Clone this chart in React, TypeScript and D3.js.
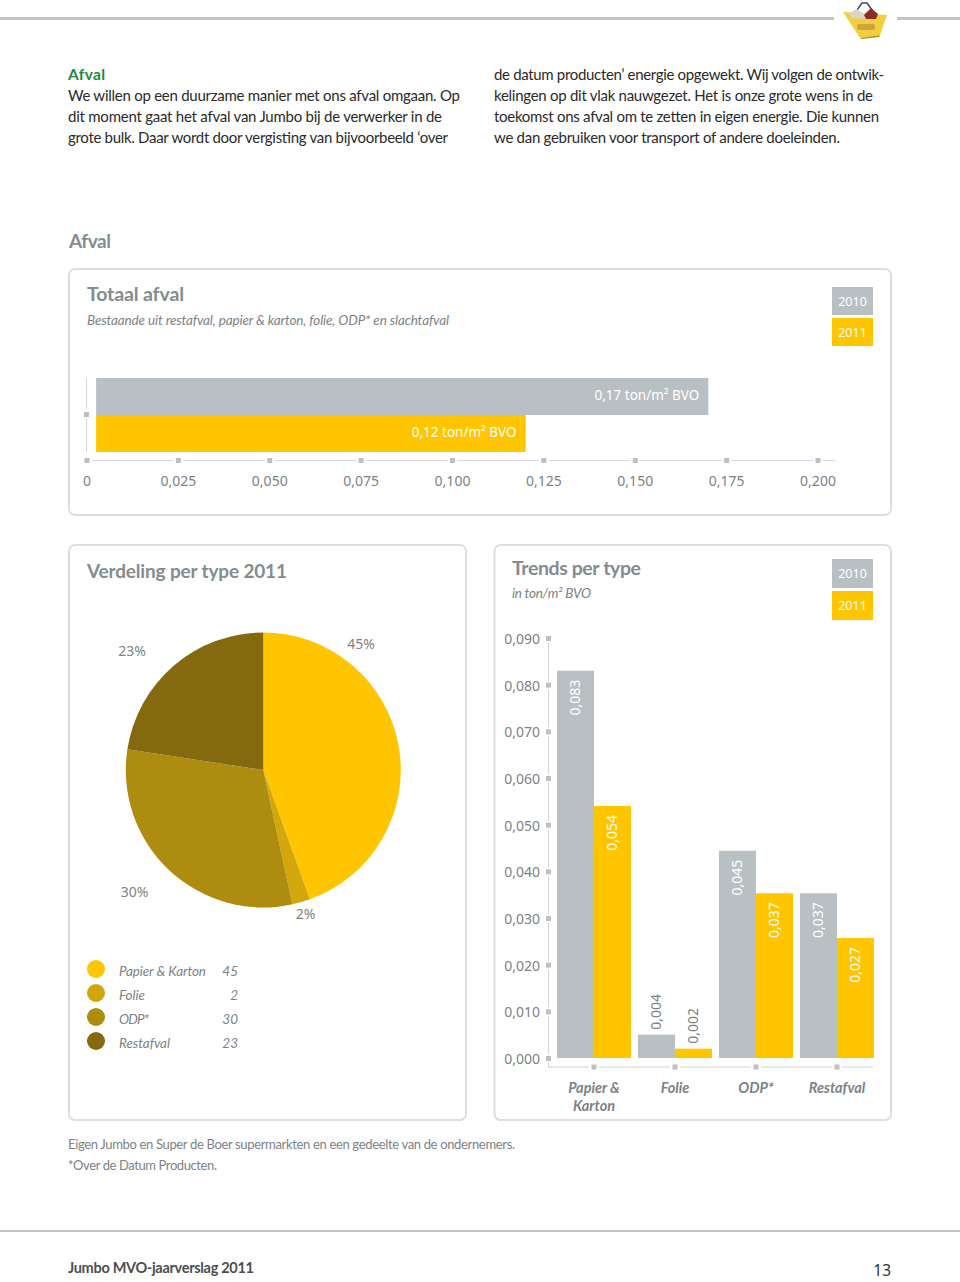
import React, { useRef, useEffect } from 'react';
import * as d3 from 'd3';

const years = ['2010', '2011'];
const totalValues = [0.17, 0.12];
const totalLabels = ['0,17 ton/m² BVO', '0,12 ton/m² BVO'];
const totalTicks = [0, 0.025, 0.05, 0.075, 0.1, 0.125, 0.15, 0.175, 0.2];

const pieNames = ['Papier & Karton', 'Folie', 'ODP*', 'Restafval'];
const pieValues = [45, 2, 30, 23];
// slice sizes as drawn in the picture, they differ a bit from the printed numbers
const pieShares = [44.5, 2.1, 30.8, 22.6];
const pieLabels = ['45%', '2%', '30%', '23%'];

const trendCategories = ['Papier & Karton', 'Folie', 'ODP*', 'Restafval'];
const trend2010 = [0.083, 0.005, 0.0444, 0.0353];
const trend2011 = [0.054, 0.002, 0.0353, 0.0257];
const trendLabels2010 = ['0,083', '0,004', '0,045', '0,037'];
const trendLabels2011 = ['0,054', '0,002', '0,037', '0,027'];
const trendTicks = [0, 0.01, 0.02, 0.03, 0.04, 0.05, 0.06, 0.07, 0.08, 0.09];

const introLeft = [
  'We willen op een duurzame manier met ons afval omgaan. Op',
  'dit moment gaat het afval van Jumbo bij de verwerker in de',
  'grote bulk. Daar wordt door vergisting van bijvoorbeeld ‘over',
];
const introRight = [
  'de datum producten’ energie opgewekt. Wij volgen de ontwik-',
  'kelingen op dit vlak nauwgezet. Het is onze grote wens in de',
  'toekomst ons afval om te zetten in eigen energie. Die kunnen',
  'we dan gebruiken voor transport of andere doeleinden.',
];

const GREY = '#b9c0c3';
const YELLOW = '#ffc600';
const TEXT = '#7d8285';
const TITLE = '#838c90';
const BORDER = '#dcdfe0';
const TICK = '#bdbfc0';
const pieColors = ['#ffc600', '#d3a60b', '#ae8c0f', '#84690f'];
const numFont = '"Noto Sans", sans-serif';
const textFont = 'Lato, sans-serif';
const comma = (d: number) => d3.format('.3f')(d).replace('.', ',');

const App = () => {
  const svgRef = useRef<SVGSVGElement>(null);

  useEffect(() => {
    const svg = d3.select(svgRef.current);
    svg.selectAll('*').remove();

    const text = (x: number, y: number, s: string, size: number, fill: string, opts: any = {}) =>
      svg
        .append('text')
        .attr('x', x)
        .attr('y', y)
        .attr('font-size', size)
        .attr('fill', fill)
        .attr('font-family', opts.font || textFont)
        .attr('font-weight', opts.weight || 400)
        .attr('font-style', opts.italic ? 'italic' : 'normal')
        .attr('text-anchor', opts.anchor || 'start')
        .text(s);

    // header
    svg.append('rect').attr('x', 0).attr('y', 17).attr('width', 834).attr('height', 3).attr('fill', '#bcc5c8');
    svg.append('rect').attr('x', 897).attr('y', 17).attr('width', 63).attr('height', 3).attr('fill', '#bcc5c8');
    const basket = svg.append('g');
    basket.append('path').attr('d', 'M855,13 L862,3 L867,3 L875,14').attr('fill', 'none').attr('stroke', '#4a4a55').attr('stroke-width', 1.5);
    basket.append('path').attr('d', 'M843,12 L887,15 L880,35 L860,38 Z').attr('fill', '#f2cf3c');
    basket.append('path').attr('d', 'M849,13 L857,9 L864,14 L866,19 L851,18 Z').attr('fill', '#d9d6c4');
    basket.append('path').attr('d', 'M864,15 L871,8 L878,14 L876,19 L866,19 Z').attr('fill', '#8c2f22');
    basket.append('rect').attr('x', 857).attr('y', 24).attr('width', 18).attr('height', 6).attr('rx', 2).attr('fill', '#c9a53a');
    basket.append('path').attr('d', 'M860,38 L880,35 L879,37 L862,39 Z').attr('fill', '#b8901f');

    // intro text
    text(68, 80, 'Afval', 15.5, '#1e8a3c', { weight: 700 }).attr('textLength', 37);
    introLeft.forEach((s, i) => text(68, 101 + i * 21, s, 15, '#2a2a2a').attr('textLength', [392, 374, 380][i]));
    introRight.forEach((s, i) => text(494, 80 + i * 21, s, 15, '#2a2a2a').attr('textLength', [390, 379, 385, 346][i]));

    text(69, 248, 'Afval', 19, TITLE, { weight: 700 }).attr('textLength', 42);

    // panels
    [
      [69, 269, 822, 246],
      [69, 545, 397, 575],
      [494.5, 545, 396.5, 575],
    ].forEach(([x, y, w, h]) =>
      svg.append('rect').attr('x', x).attr('y', y).attr('width', w).attr('height', h).attr('rx', 6).attr('fill', 'none').attr('stroke', BORDER).attr('stroke-width', 2),
    );

    const yearBoxes = (y0: number, y1: number, h: number) => {
      years.forEach((yr, i) => {
        const y = i === 0 ? y0 : y1;
        svg.append('rect').attr('x', 832).attr('y', y).attr('width', 41).attr('height', h).attr('fill', i === 0 ? GREY : YELLOW);
        text(852.5, y + h / 2 + 4.5, yr, 12.5, '#fff', { font: numFont, anchor: 'middle' });
      });
    };

    // totaal afval
    text(87, 301, 'Totaal afval', 19.5, TITLE, { weight: 700 }).attr('textLength', 97);
    text(87, 325, 'Bestaande uit restafval, papier & karton, folie, ODP* en slachtafval', 13.5, TEXT, { italic: true }).attr('textLength', 362);
    yearBoxes(287, 318, 28);

    const xTotal = d3.scaleLinear().domain([0, 0.2]).range([87, 818]);
    const yTotal = d3.scaleBand().domain(years).range([378, 452]);
    const barStart = xTotal(0.0025);

    svg.selectAll('.total').data(totalValues).join('rect').attr('class', 'total')
      .attr('x', barStart)
      .attr('y', (_, i) => yTotal(years[i]) as number)
      .attr('width', (d) => xTotal(d) - barStart)
      .attr('height', yTotal.bandwidth())
      .attr('fill', (_, i) => (i === 0 ? GREY : YELLOW));
    totalValues.forEach((d, i) =>
      text(xTotal(d) - 9, (yTotal(years[i]) as number) + 22, totalLabels[i], 13.5, '#fff', { font: numFont, anchor: 'end' }),
    );

    const square = (x: number, y: number) =>
      svg.append('rect').attr('x', x - 2.5).attr('y', y - 2.5).attr('width', 5).attr('height', 5).attr('fill', TICK);

    const xAxis = svg.append('g').attr('transform', 'translate(-0.5,460)')
      .call(d3.axisBottom(xTotal).tickValues(totalTicks).tickSize(0).tickPadding(16).tickFormat((d) => (+d === 0 ? '0' : comma(+d))));
    xAxis.select('.domain').remove();
    xAxis.selectAll('text').attr('font-size', 14).attr('font-family', numFont).attr('fill', TEXT);
    svg.append('line').attr('x1', 87).attr('x2', 836).attr('y1', 460.5).attr('y2', 460.5).attr('stroke', '#d5d5e6');
    totalTicks.forEach((t) => {
      svg.append('rect').attr('x', xTotal(t) - 5).attr('y', 458).attr('width', 10).attr('height', 5).attr('fill', '#fff');
      square(xTotal(t), 460.5);
    });
    svg.append('line').attr('x1', 86.5).attr('x2', 86.5).attr('y1', 378).attr('y2', 452).attr('stroke', '#d5d5d5');
    svg.append('rect').attr('x', 84).attr('y', 409).attr('width', 5).attr('height', 10).attr('fill', '#fff');
    square(86.5, 414.5);

    // pie
    text(87, 578, 'Verdeling per type 2011', 19, TITLE, { weight: 700 }).attr('textLength', 200);
    const pie = d3.pie<number>().sort(null);
    const arc = d3.arc<d3.PieArcDatum<number>>().innerRadius(0).outerRadius(137.5);
    svg.append('g').attr('transform', 'translate(263.3,770)')
      .selectAll('path').data(pie(pieShares)).join('path')
      .attr('d', arc)
      .attr('fill', (_, i) => pieColors[i]);
    [[361, 649], [305.5, 919], [134.5, 897], [132, 656]].forEach(([x, y], i) =>
      text(x, y, pieLabels[i], 14, TEXT, { font: numFont, anchor: 'middle' }),
    );
    pieNames.forEach((name, i) => {
      const y = 969 + i * 24;
      svg.append('circle').attr('cx', 96).attr('cy', y).attr('r', 9).attr('fill', pieColors[i]);
      text(119, y + 6.5, name, 13.5, TEXT, { italic: true }).attr('textLength', [87, 26, 30, 51][i]);
      text(238, y + 6.5, String(pieValues[i]), 13.5, TEXT, { italic: true, anchor: 'end' });
    });

    // trends
    text(512, 575, 'Trends per type', 19.5, TITLE, { weight: 700 }).attr('textLength', 129);
    text(512, 598, 'in ton/m² BVO', 13.5, TEXT, { italic: true }).attr('textLength', 79);
    yearBoxes(559, 591, 29);

    const yTrend = d3.scaleLinear().domain([0, 0.09]).range([1058, 638]);
    const xTrend = d3.scaleBand().domain(trendCategories).range([553.5, 877.5]).paddingInner(7 / 81).paddingOuter(3.5 / 81);
    const half = xTrend.bandwidth() / 2;

    const yAxis = svg.append('g').attr('transform', 'translate(549,1)')
      .call(d3.axisLeft(yTrend).tickValues(trendTicks).tickSize(0).tickPadding(9).tickFormat((d) => comma(+d)));
    yAxis.select('.domain').remove();
    yAxis.selectAll('text').attr('font-size', 14).attr('font-family', numFont).attr('fill', TEXT);
    svg.append('line').attr('x1', 548.5).attr('x2', 548.5).attr('y1', 638).attr('y2', 1067).attr('stroke', '#d0d2d3');
    svg.append('line').attr('x1', 548).attr('x2', 873).attr('y1', 1067).attr('y2', 1067).attr('stroke', '#d0d2d3');
    trendTicks.forEach((t) => {
      svg.append('rect').attr('x', 546).attr('y', yTrend(t) - 4).attr('width', 5).attr('height', 9).attr('fill', '#fff');
      square(548.5, yTrend(t) + 0.5);
    });

    [trend2010, trend2011].forEach((series, s) => {
      svg.selectAll(`.bar${s}`).data(series).join('rect').attr('class', `bar${s}`)
        .attr('x', (_, i) => (xTrend(trendCategories[i]) as number) + s * half)
        .attr('y', (d) => yTrend(d))
        .attr('width', half)
        .attr('height', (d) => yTrend(0) - yTrend(d))
        .attr('fill', s === 0 ? GREY : YELLOW);
    });

    const vertical = (cx: number, anchorY: number, s: string, fill: string, anchor: string) =>
      svg.append('text')
        .attr('transform', `translate(${cx + 4.5},${anchorY}) rotate(-90)`)
        .attr('font-size', 14).attr('font-family', numFont).attr('fill', fill)
        .attr('text-anchor', anchor).text(s);

    trendCategories.forEach((c, i) => {
      const x0 = xTrend(c) as number;
      const inside = (v: number) => yTrend(0) - yTrend(v) > 60;
      const place = (v: number, label: string, cx: number) => {
        if (inside(v)) vertical(cx, yTrend(v) + 9, label, '#fff', 'end');
        else vertical(cx, yTrend(v) - 5, label, TEXT, 'start');
      };
      place(trend2010[i], trendLabels2010[i], x0 + half / 2);
      place(trend2011[i], trendLabels2011[i], x0 + half * 1.5);
      const cx = x0 + half;
      svg.append('rect').attr('x', cx - 5).attr('y', 1064).attr('width', 10).attr('height', 6).attr('fill', '#fff');
      square(cx, 1067);
      const parts = c === 'Papier & Karton' ? ['Papier &', 'Karton'] : [c];
      parts.forEach((p, k) => text(cx, 1093 + k * 17.5, p, 14.5, TEXT, { weight: 700, italic: true, anchor: 'middle' }));
    });

    // footnotes + footer
    text(68, 1149, 'Eigen Jumbo en Super de Boer supermarkten en een gedeelte van de ondernemers.', 13, TEXT).attr('textLength', 447);
    text(68, 1170, '*Over de Datum Producten.', 13, TEXT).attr('textLength', 149);
    svg.append('rect').attr('x', 0).attr('y', 1230).attr('width', 960).attr('height', 2).attr('fill', '#bcc5c8');
    text(68, 1273, 'Jumbo MVO-jaarverslag 2011', 14.5, '#4a4f52', { weight: 700 }).attr('textLength', 186);
    text(891, 1276, '13', 15.5, '#333', { anchor: 'end', font: numFont });
  }, []);

  return <svg ref={svgRef} width={960} height={1282} style={{ position: 'absolute', left: 0, top: 0, background: '#fff' }} />;
};

export default App;
